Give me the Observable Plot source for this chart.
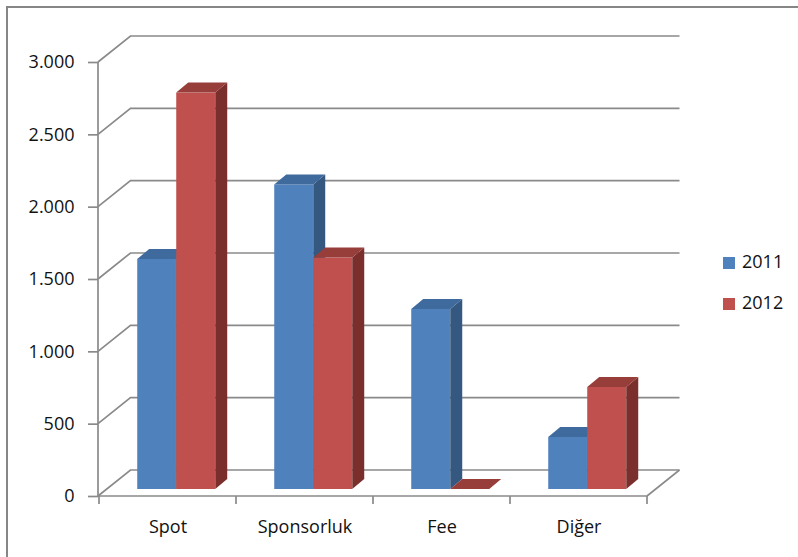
<!DOCTYPE html>
<html>
<head>
<meta charset="utf-8">
<script src="https://cdn.jsdelivr.net/npm/d3@7"></script>
<script src="https://cdn.jsdelivr.net/npm/@observablehq/plot@0.6"></script>
<style>
  html, body { margin: 0; padding: 0; background: #fff; }
  #wrap { position: relative; width: 798px; height: 557px; overflow: hidden; font-family: "Open Sans", sans-serif; }
  #wrap svg { position: absolute; left: 0; top: 0; }
  #frame { position: absolute; left: 6px; top: 6px; width: 840px; height: 640px; border: 2px solid #868686; box-sizing: border-box; pointer-events: none; }
  .leg { position: absolute; left: 723px; font-size: 18px; line-height: 18px; color: #111; white-space: nowrap; }
  .leg i { display: inline-block; width: 12px; height: 12px; margin-right: 7px; vertical-align: -1px; }
</style>
</head>
<body>
<div id="wrap"><div id="frame"></div></div>
<script>
// ---- data ----
const categories = ["Spot", "Sponsorluk", "Fee", "Diğer"];
const years = ["2011", "2012"];
const values2011 = [1590, 2105, 1245, 360];
const values2012 = [2740, 1600, 0, 705];
const yTicks = [0, 500, 1000, 1500, 2000, 2500, 3000];

// ---- styling ----
const colors = {
  "2011": {front: "#4F81BD", top: "#3E6A9E", side: "#345880"},
  "2012": {front: "#C0504D", top: "#973D3A", side: "#7B2F2D"}
};
const GRID = "#8a8a8a";
const W = 798, H = 557;
const M = {left: 98, right: 151, top: 62, bottom: 61};
const band = (W - M.left - M.right) / categories.length;
const barW = 39;
const pairPad = (band - 2 * barW) / 2;
const SHIFT = {dx: 8.6, dy: -7};     // bars sit a little inside the depth
const BAR_D = {dx: 12, dy: -10};     // bar depth
const WALL_D = {dx: 32.5, dy: -26};  // wall depth

const series = {"2011": values2011, "2012": values2012};
const rows = years.map(yr => categories.map((c, i) => ({category: c, year: yr, value: series[yr][i]})));

const fmt = d3.formatLocale({decimal: ",", thousands: ".", grouping: [3], currency: ["", ""]}).format(",d");

function walls(index, scales, values, dims) {
  const {x, y} = scales;
  const g = d3.create("svg:g").attr("fill", "none").attr("stroke", GRID).attr("stroke-width", 1.7);
  const xl = dims.marginLeft, xr = dims.width - dims.marginRight;
  for (const t of yTicks) {
    const py = y(t);
    g.append("path").attr("d", `M${xl},${py}L${xl + WALL_D.dx},${py + WALL_D.dy}H${xr + WALL_D.dx}`);
  }
  const y0 = y(0);
  g.append("path").attr("d", `M${xr},${y0}L${xr + WALL_D.dx},${y0 + WALL_D.dy}`);
  g.append("path").attr("d", `M${xl},${y(yTicks[yTicks.length - 1])}V${y0}H${xr}`);
  const bounds = categories.map(c => x(c)).concat([xr]);
  for (const bx of bounds) g.append("path").attr("d", `M${bx},${y0}v8`);
  return g.node();
}

function faces(j) {
  const yr = years[j];
  return function (index, scales) {
    const {x, y} = scales;
    const g = d3.create("svg:g");
    for (const d of rows[j]) {
      const xl = x(d.category) + pairPad + j * barW + SHIFT.dx;
      const xr = xl + barW;
      const yt = y(d.value) + SHIFT.dy;
      const yb = y(0) + SHIFT.dy;
      g.append("path").attr("fill", colors[yr].side)
        .attr("d", `M${xr},${yt}L${xr + BAR_D.dx},${yt + BAR_D.dy}L${xr + BAR_D.dx},${yb + BAR_D.dy}L${xr},${yb}Z`);
      g.append("path").attr("fill", colors[yr].top)
        .attr("d", `M${xl},${yt}L${xr},${yt}L${xr + BAR_D.dx},${yt + BAR_D.dy}L${xl + BAR_D.dx},${yt + BAR_D.dy}Z`);
    }
    return g.node();
  };
}

const marks = [walls];
years.forEach((yr, j) => {
  marks.push(Plot.barY(rows[j], {
    x: "category", y: "value", fill: colors[yr].front,
    insetLeft: pairPad + j * barW, insetRight: band - pairPad - (j + 1) * barW,
    dx: SHIFT.dx, dy: SHIFT.dy
  }));
  marks.push(faces(j));
});
marks.push(Plot.axisY({ticks: yTicks, tickSize: 10, tickPadding: 14, tickFormat: fmt, stroke: GRID, strokeWidth: 1.7, fill: "#111", fontSize: 18, label: null}));
marks.push(Plot.axisX({tickSize: 0, tickPadding: 24, fill: "#111", fontSize: 18, label: null}));

const chart = Plot.plot({
  width: W, height: H,
  marginLeft: M.left, marginRight: M.right, marginTop: M.top, marginBottom: M.bottom,
  style: {fontFamily: "'Open Sans', sans-serif", background: "transparent", overflow: "visible"},
  x: {type: "band", domain: categories, padding: 0},
  y: {domain: [0, 3000]},
  marks
});
const wrap = document.getElementById("wrap");
wrap.insertBefore(chart, wrap.firstChild);

// legend
years.forEach((yr, j) => {
  const el = document.createElement("div");
  el.className = "leg";
  el.style.top = (252 + j * 41) + "px";
  el.innerHTML = `<i style="background:${colors[yr].front}"></i>${yr}`;
  wrap.appendChild(el);
});
</script>
</body>
</html>
